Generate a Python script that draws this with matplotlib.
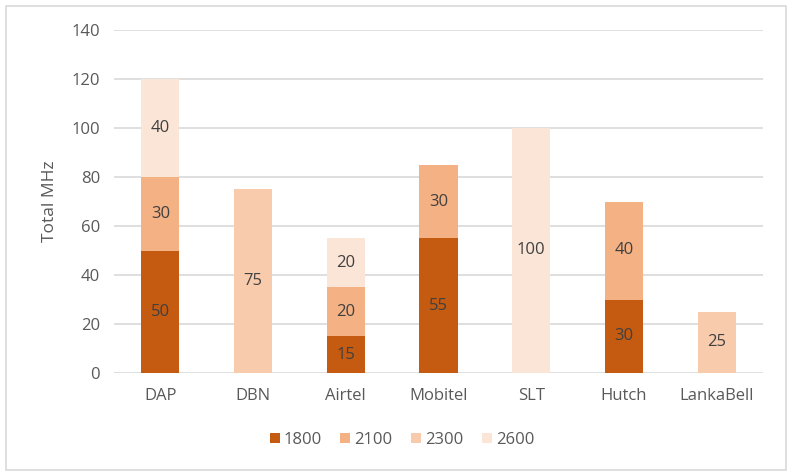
import matplotlib
matplotlib.use("Agg")
import matplotlib.pyplot as plt
from matplotlib.patches import Rectangle
import numpy as np

categories = ["DAP", "DBN", "Airtel", "Mobitel", "SLT", "Hutch", "LankaBell"]
bands = ["1800", "2100", "2300", "2600"]
v1800 = [50, 0, 15, 55, 0, 30, 0]
v2100 = [30, 0, 20, 30, 0, 40, 0]
v2300 = [0, 75, 0, 0, 0, 0, 25]
v2600 = [40, 0, 20, 0, 100, 0, 0]
series = [v1800, v2100, v2300, v2600]
colors = ["#C55A11", "#F4B183", "#F8CBAD", "#FBE5D6"]

plt.rcParams['font.family'] = ['Open Sans', 'DejaVu Sans']
txt = "#595959"

fig = plt.figure(figsize=(7.87, 4.72), dpi=100)
ax = fig.add_axes([114/787, 1-373/472, (763-114)/787, (373-30)/472])

x = np.arange(len(categories))
bottom = np.zeros(len(categories))
for vals, c, name in zip(series, colors, bands):
    vals = np.array(vals, dtype=float)
    ax.bar(x, vals, 0.41, bottom=bottom, color=c, label=name, zorder=3)
    for xi, v, b in zip(x, vals, bottom):
        if v > 0:
            ax.text(xi, b + v/2, f"{int(v)}", ha="center", va="center",
                    fontsize=12, color="#404040", zorder=4)
    bottom += vals

ax.set_xlim(-0.5, len(categories)-0.5)
ax.set_ylim(0, 140)
ax.set_yticks(range(0, 141, 20))
ax.yaxis.grid(True, color="#D9D9D9", linewidth=1.2, zorder=0)
for s in ax.spines.values():
    s.set_visible(False)
ax.tick_params(axis="both", length=0, labelsize=12, labelcolor=txt, pad=10)
ax.tick_params(axis="x", pad=11)
ax.set_xticks(x)
ax.set_xticklabels(categories)
ax.set_ylabel("Total MHz", fontsize=12.5, color=txt, labelpad=10)

leg = fig.legend(loc="center", bbox_to_anchor=(402/787, 1-440/472), ncol=4,
                 frameon=False, fontsize=12, handlelength=0.6, handleheight=0.6,
                 handletextpad=0.25, columnspacing=1.1)
for t in leg.get_texts():
    t.set_color(txt)

fig.patches.append(Rectangle((6/787, 2/472), 780/787, 464/472, transform=fig.transFigure,
                             fill=False, edgecolor="#D9D9D9", linewidth=1.2))

fig.savefig("out.png", dpi=100, facecolor="white")
